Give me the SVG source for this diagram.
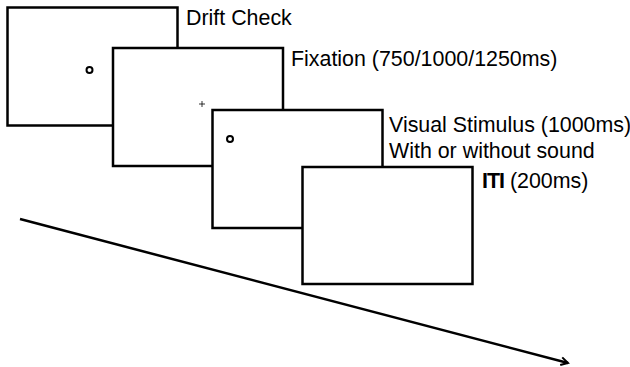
<svg xmlns="http://www.w3.org/2000/svg" width="630" height="367" viewBox="0 0 630 367">
<defs>
<style>
.scr{fill:#fff;stroke:#000;stroke-width:2.5}
.lbl{font-family:"Liberation Sans",Arial,sans-serif;font-size:21.4px;fill:#000}
.dot{fill:none;stroke:#000;stroke-width:2}
</style>
<marker id="ah" markerWidth="10" markerHeight="10" refX="8" refY="5" orient="auto" markerUnits="userSpaceOnUse">
<path d="M1,1 L8,5 L1,9" fill="none" stroke="#000" stroke-width="2"/>
</marker>
</defs>
<rect width="630" height="367" fill="#fff"/>
<g id="drift">
<rect class="scr" x="7.5" y="7.5" width="170" height="118"/>
<circle class="dot" cx="89.5" cy="70" r="3"/>
<text class="lbl" x="186" y="24.5">Drift Check</text>
</g>
<g id="fixation">
<rect class="scr" x="113" y="48" width="170" height="118"/>
<path d="M199,104 H205 M202,101 V107" stroke="#000" stroke-width="0.8"/>
<text class="lbl" x="291" y="65.5">Fixation (750/1000/1250ms)</text>
</g>
<g id="stimulus">
<rect class="scr" x="212.5" y="110" width="170" height="118"/>
<circle class="dot" cx="230" cy="139" r="3"/>
<text class="lbl" x="389" y="131.5">Visual Stimulus (1000ms)</text>
<text class="lbl" x="389" y="158">With or without sound</text>
</g>
<g id="iti">
<rect class="scr" x="302.5" y="167" width="170" height="117"/>
<text class="lbl" x="482" y="187.5"><tspan font-weight="bold" letter-spacing="-1">ITI</tspan> (200ms)</text>
</g>
<g id="connectors">
<line x1="20" y1="219" x2="568" y2="363" stroke="#000" stroke-width="2.5" marker-end="url(#ah)"/>
</g>
</svg>
